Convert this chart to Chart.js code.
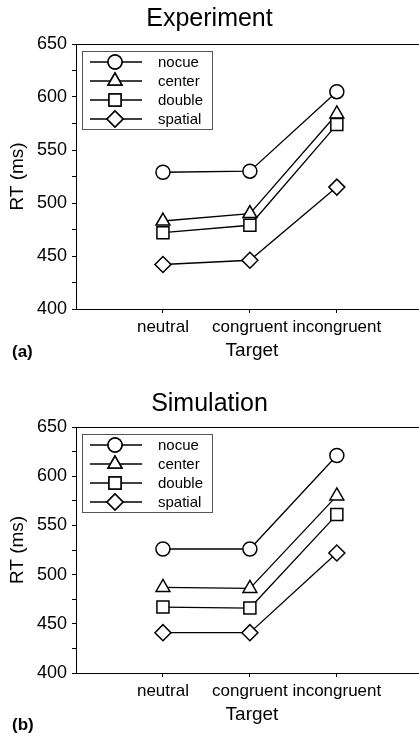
<!DOCTYPE html>
<html>
<head>
<meta charset="utf-8">
<script src="https://cdn.jsdelivr.net/npm/chart.js@4"></script>
<style>
  body { margin: 0; background: #fff; }
  canvas { display: block; }
</style>
</head>
<body>
<canvas id="expChart" width="419" height="383"></canvas>
<canvas id="simChart" width="419" height="364"></canvas>
<script>
// RT by target type and cue condition, experiment vs simulation

const categories = ['neutral', 'congruent', 'incongruent'];
const seriesNames = ['nocue', 'center', 'double', 'spatial'];
const yTicks = [400, 450, 500, 550, 600, 650];
const xTitle = 'Target';

// Experiment (a)
const expNocue   = [529, 530, 605];
const expCenter  = [483, 490, 584];
const expDouble  = [472, 479, 574];
const expSpatial = [442, 446, 515];

// Simulation (b)
const simNocue   = [526, 526, 621];
const simCenter  = [487, 486, 580];
const simDouble  = [467, 466, 561];
const simSpatial = [441, 441, 522];

const FONT = 'Arial, "Liberation Sans", sans-serif';
const markers = [
  { style: 'circle', r: 7 },
  { style: 'triangle', r: 8 },
  { style: 'rect', r: 8.5 },
  { style: 'rectRot', r: 8 }
];

function makeDatasets(rows) {
  return rows.map((vals, i) => ({
    label: seriesNames[i],
    data: vals.map((v, j) => ({ x: j + 1, y: v })),
    order: rows.length - i,   // later series drawn on top
    borderColor: '#000',
    borderWidth: 1.3,
    backgroundColor: '#fff',
    pointStyle: markers[i].style,
    pointRadius: markers[i].r,
    pointHoverRadius: markers[i].r,
    pointBorderWidth: 1.5,
    pointBorderColor: '#000',
    pointBackgroundColor: '#fff'
  }));
}

function drawMarker(ctx, style, r, x, y) {
  if (Chart.helpers && Chart.helpers.drawPoint) {
    Chart.helpers.drawPoint(ctx, { pointStyle: style, radius: r, borderWidth: 1.5, rotation: 0 }, x, y);
    ctx.fill();
    ctx.stroke();
  }
}

// frame lines out to the edge, hand-drawn legend, x title, panel letter
const extras = {
  id: 'extras',
  afterDraw(chart, args, opts) {
    const { ctx, chartArea: a } = chart;
    ctx.save();
    ctx.strokeStyle = '#000';
    ctx.lineWidth = 1;
    ctx.beginPath();
    ctx.moveTo(a.left, a.top + 0.5);
    ctx.lineTo(chart.width, a.top + 0.5);
    ctx.moveTo(a.right - 1, Math.round(a.bottom) + 0.5);
    ctx.lineTo(chart.width, Math.round(a.bottom) + 0.5);
    ctx.stroke();

    // legend box
    const bx = a.left + 6, by = a.top + 7, bw = 130, bh = 78;
    ctx.strokeStyle = '#555';
    ctx.strokeRect(bx + 0.5, by + 0.5, bw, bh);
    ctx.font = '15px ' + FONT;
    ctx.textBaseline = 'middle';
    ctx.textAlign = 'left';
    chart.data.datasets.forEach((ds, i) => {
      const ry = by + 11 + i * 19;
      ctx.strokeStyle = '#000';
      ctx.lineWidth = 1.3;
      ctx.beginPath();
      ctx.moveTo(bx + 8, ry);
      ctx.lineTo(bx + 60, ry);
      ctx.stroke();
      ctx.fillStyle = '#fff';
      ctx.lineWidth = 1.5;
      drawMarker(ctx, ds.pointStyle, ds.pointRadius, bx + 33, ry);
      ctx.fillStyle = '#000';
      ctx.fillText(ds.label, bx + 76, ry + 1);
    });

    ctx.textAlign = 'center';
    ctx.font = '19px ' + FONT;
    ctx.fillText(xTitle, a.left + 176, a.bottom + 42);

    ctx.textAlign = 'left';
    ctx.font = 'bold 17px ' + FONT;
    ctx.fillText(opts.panel, 12, opts.panelY);
    ctx.restore();
  }
};

function makeChart(id, title, rows, panel, panelY, titlePad) {
  return new Chart(document.getElementById(id), {
    type: 'line',
    data: { datasets: makeDatasets(rows) },
    options: {
      responsive: false,
      animation: false,
      layout: { padding: 0 },
      plugins: {
        legend: { display: false },
        tooltip: { enabled: false },
        title: {
          display: true, text: title, color: '#000',
          font: { size: 25, family: FONT, weight: 'normal' },
          padding: titlePad
        },
        extras: { panel: panel, panelY: panelY }
      },
      scales: {
        x: {
          type: 'linear', min: 0, max: 3.83,
          afterBuildTicks: s => { s.ticks = categories.map((c, i) => ({ value: i + 1 })); },
          afterFit: s => { s.height = 74; s.paddingLeft = 0; s.paddingRight = 0; },
          ticks: {
            color: '#000', padding: 4, maxRotation: 0, autoSkip: false,
            font: { size: 17, family: FONT },
            callback: v => categories[v - 1]
          },
          grid: { drawOnChartArea: false, drawTicks: true, tickLength: 4, color: '#000' },
          border: { color: '#000', width: 1 }
        },
        y: {
          min: 400, max: 650,
          afterFit: s => { s.width = 76; },
          ticks: {
            stepSize: 25, color: '#000', padding: 5,
            font: { size: 18, family: FONT },
            callback: v => yTicks.includes(v) ? v : ''
          },
          grid: { drawOnChartArea: false, drawTicks: true, tickLength: 4, color: '#000' },
          border: { color: '#000', width: 1 },
          title: {
            display: true, text: 'RT (ms)', color: '#000',
            font: { size: 19, family: FONT },
            padding: { top: 6, bottom: 0 }
          }
        }
      }
    },
    plugins: [extras]
  });
}

makeChart('expChart', 'Experiment', [expNocue, expCenter, expDouble, expSpatial], '(a)', 352, { top: 4, bottom: 10 });
makeChart('simChart', 'Simulation', [simNocue, simCenter, simDouble, simSpatial], '(b)', 342, { top: 6, bottom: 8 });
</script>
</body>
</html>
